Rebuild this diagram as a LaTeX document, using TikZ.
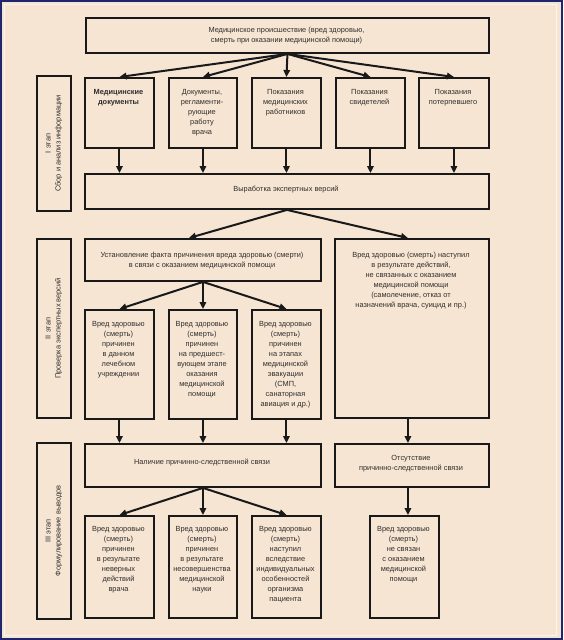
\documentclass[tikz,border=0pt]{standalone}
\usepackage{fontspec}
\setmainfont{Liberation Sans}
\usetikzlibrary{arrows.meta}
\definecolor{bg}{RGB}{246,229,211}
\definecolor{framecol}{RGB}{30,38,112}
\definecolor{txtcol}{RGB}{48,46,44}
\newcommand\bx[5]{\node[box,minimum width=#4-#2,minimum height=#5-#3] (#1) at (#2,#3) {};}
\begin{document}
\begin{tikzpicture}[x=1pt,y=-1pt,
  box/.style={draw=black!90,line width=1.9pt,inner sep=0,anchor=north west},
  lbl/.style={font=\fontsize{7.4}{10}\selectfont,text=txtcol,align=center,inner sep=0},
  tl/.style={lbl,anchor=north},
  arr/.style={-{Triangle[length=7pt,width=6.5pt]},line width=2pt,draw=black!90}]
\fill[bg] (0,0) rectangle (563,640);
\useasboundingbox (0,0) rectangle (563,640);
\draw[white!60!bg,line width=0.6pt] (4,4) rectangle (556,635);
\draw[framecol,line width=2pt] (1,1) rectangle (562,639);

% left stage labels
\bx{s1}{36}{75}{70}{210}
\bx{s2}{36}{238}{70}{417}
\bx{s3}{36}{442}{70}{618}
\node[lbl,rotate=90] (s1t) at (s1.center) {I этап\hspace{44pt}\\Сбор и анализ информации};
\node[lbl,rotate=90] (s2t) at (s2.center) {II этап\\Проверка экспертных версий};
\node[lbl,rotate=90] (s3t) at (s3.center) {III этап\\Формулирование выводов};

% top
\bx{top}{85}{17}{488}{52}
\node[lbl] (topt) at (286.5,36) {Медицинское происшествие (вред здоровью,\\ смерть при оказании медицинской помощи)};

% level 2
\bx{a1}{84}{77}{153}{147}
\bx{a2}{168}{77}{236}{147}
\bx{a3}{251}{77}{320}{147}
\bx{a4}{335}{77}{404}{147}
\bx{a5}{418}{77}{488}{147}
\node[tl,font=\fontsize{7.4}{10}\selectfont\bfseries] (a1t) at (118.5,89.5) {Медицинские\\документы};
\node[tl] (a2t) at (202,89.5) {Документы,\\регламенти-\\рующие\\работу\\врача};
\node[tl] (a3t) at (285.5,89.5) {Показания\\медицинских\\работников};
\node[tl] (a4t) at (369.5,89.5) {Показания\\свидетелей};
\node[tl] (a5t) at (453,89.5) {Показания\\потерпевшего};

% versions
\bx{v}{84}{173}{488}{208}
\node[lbl] (vt) at (286,190) {Выработка экспертных версий};

% level 3
\bx{b1}{84}{238}{320}{280}
\bx{b2}{334}{238}{488}{417}
\node[tl] (b1t) at (202,251.5) {Установление факта причинения вреда здоровью (смерти)\\в связи с оказанием медицинской помощи};
\node[tl] (b2t) at (411,251.5) {Вред здоровью (смерть) наступил\\в результате действий,\\не связанных с оказанием\\медицинской помощи\\(самолечение, отказ от\\назначений врача, суицид и пр.)};

% level 4
\bx{c1}{84}{309}{153}{418}
\bx{c2}{168}{309}{236}{418}
\bx{c3}{251}{309}{320}{418}
\node[tl] (c1t) at (118.5,321.5) {Вред здоровью\\(смерть)\\причинен\\в данном\\лечебном\\учреждении};
\node[tl] (c2t) at (202,321.5) {Вред здоровью\\(смерть)\\причинен\\на предшест-\\вующем этапе\\оказания\\медицинской\\помощи};
\node[tl] (c3t) at (285.5,321.5) {Вред здоровью\\(смерть)\\причинен\\на этапах\\медицинской\\эвакуации\\(СМП,\\санаторная\\авиация и др.)};

% level 5
\bx{d1}{84}{443}{320}{486}
\bx{d2}{334}{443}{488}{486}
\node[lbl] (d1t) at (202,462.5) {Наличие причинно-следственной связи};
\node[lbl] (d2t) at (411,464) {Отсутствие\\причинно-следственной связи};

% level 6
\bx{e1}{84}{515}{153}{617}
\bx{e2}{168}{515}{236}{617}
\bx{e3}{251}{515}{320}{617}
\bx{e4}{369}{515}{438}{617}
\node[tl] (e1t) at (118.5,526.5) {Вред здоровью\\(смерть)\\причинен\\в результате\\неверных\\действий\\врача};
\node[tl] (e2t) at (202,526.5) {Вред здоровью\\(смерть)\\причинен\\в результате\\несовершенства\\медицинской\\науки};
\node[tl] (e3t) at (285.5,526.5) {Вред здоровью\\(смерть)\\наступил\\вследствие\\индивидуальных\\особенностей\\организма\\пациента};
\node[tl] (e4t) at (403.5,526.5) {Вред здоровью\\(смерть)\\не связан\\с оказанием\\медицинской\\помощи};

% arrows
\foreach \n in {a1,a2,a3,a4,a5} \draw[arr] (top.south) -- (\n.north);
\foreach \n in {a1,a2,a3,a4,a5} \draw[arr] (\n.south) -- (\n.south |- v.north);
\draw[arr] (v.south) -- ([xshift=-14pt]b1.north);
\draw[arr] (v.south) -- ([xshift=-4pt]b2.north);
\foreach \n in {c1,c2,c3} \draw[arr] (b1.south) -- (\n.north);
\foreach \n in {c1,c2,c3} \draw[arr] (\n.south) -- (\n.south |- d1.north);
\draw[arr] ([xshift=-4pt]b2.south) -- ([xshift=-4pt]b2.south |- d2.north);
\foreach \n in {e1,e2,e3} \draw[arr] (d1.south) -- (\n.north);
\draw[arr] ([xshift=-4pt]d2.south) -- ([xshift=-4pt]d2.south |- e4.north);
\end{tikzpicture}
\end{document}
